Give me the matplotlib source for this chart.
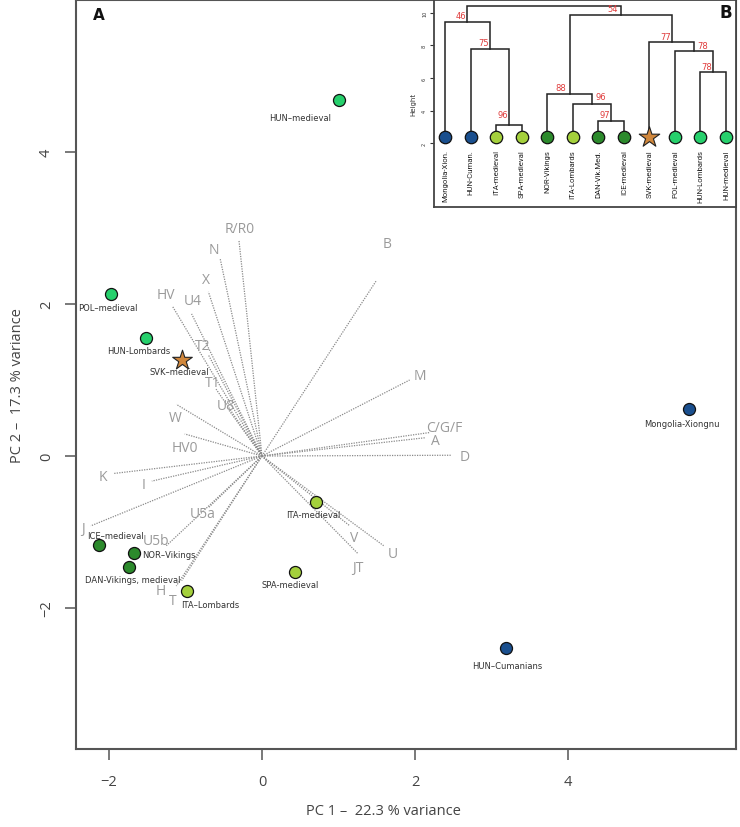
import matplotlib
matplotlib.use("Agg")
import matplotlib.pyplot as plt

# ---------------- data ----------------
pop_names = ["HUN\u2013medieval", "POL\u2013medieval", "HUN-Lombards", "SVK\u2013medieval",
             "ICE\u2013medieval", "NOR\u2013Vikings", "DAN-Vikings, medieval", "ITA\u2013Lombards",
             "SPA-medieval", "ITA-medieval", "Mongolia-Xiongnu", "HUN\u2013Cumanians"]
pc1 = [1.01, -1.97, -1.52, -1.04, -2.13, -1.67, -1.74, -0.98, 0.43, 0.71, 5.58, 3.19]
pc2 = [4.68, 2.13, 1.55, 1.26, -1.17, -1.27, -1.46, -1.78, -1.53, -0.60, 0.62, -2.53]
pop_group = ["cE", "cE", "cE", "SVK", "NORD", "NORD", "NORD", "SOUTH", "SOUTH", "SOUTH", "ASIA", "ASIA"]
pop_label_x = [0.50, -2.01, -1.61, -1.08, -1.92, -1.22, -1.69, -0.67, 0.375, 0.67, 5.49, 3.20]
pop_label_y = [4.45, 1.96, 1.39, 1.11, -1.04, -1.30, -1.63, -1.95, -1.69, -0.77, 0.43, -2.75]

hg_names = ["R/R0", "N", "X", "HV", "U4", "T2", "T1", "U8", "W", "HV0", "K", "I", "J",
            "U5a", "U5b", "H", "T", "B", "M", "C/G/F", "A", "D", "V", "U", "JT"]
hg_tip_x = [-0.30, -0.545, -0.70, -1.17, -0.92, -0.70, -0.60, -0.43, -1.12, -1.01, -1.94, -1.44, -2.24,
            -0.70, -1.25, -1.12, -1.05, 1.49, 1.93, 2.20, 2.13, 2.48, 1.15, 1.59, 1.25]
hg_tip_y = [2.83, 2.59, 2.16, 1.97, 1.87, 1.33, 0.88, 0.60, 0.68, 0.29, -0.23, -0.33, -0.92,
            -0.68, -1.18, -1.71, -1.64, 2.30, 1.00, 0.31, 0.24, 0.01, -0.92, -1.18, -1.28]
hg_lab_x = [-0.29, -0.63, -0.73, -1.25, -0.90, -0.77, -0.65, -0.47, -1.14, -1.01, -2.08, -1.55, -2.34,
            -0.77, -1.38, -1.32, -1.17, 1.63, 2.07, 2.38, 2.26, 2.65, 1.21, 1.71, 1.25]
hg_lab_y = [3.00, 2.72, 2.32, 2.12, 2.04, 1.46, 0.97, 0.67, 0.51, 0.11, -0.27, -0.37, -0.96,
            -0.76, -1.11, -1.77, -1.90, 2.80, 1.06, 0.38, 0.20, -0.01, -1.07, -1.28, -1.47]

x_ticks = [-2, 0, 2, 4]
y_ticks = [-2, 0, 2, 4]
x_title = "PC 1 \u2013  22.3 % variance"
y_title = "PC 2 \u2013  17.3 % variance"

# dendrogram
leaf_names = ["Mongolia-Xion.", "HUN-Cuman.", "ITA-medieval", "SPA-medieval", "NOR-Vikings",
              "ITA-Lombards", "DAN-Vik.Med.", "ICE-medieval", "SVK-medieval", "POL-medieval",
              "HUN-Lombards", "HUN-medieval"]
leaf_group = ["ASIA", "ASIA", "SOUTH", "SOUTH", "NORD", "SOUTH", "NORD", "NORD", "SVK", "cE", "cE", "cE"]
node_a = [2, 1, 0, 6, 5, 4, 10, 9, 8, 17, 14]
node_b = [3, 12, 13, 7, 15, 16, 11, 18, 19, 20, 21]
node_h = [3.14, 7.79, 9.42, 3.39, 4.43, 5.02, 6.36, 7.68, 8.23, 9.89, 10.44]
node_bs = ["96", "75", "46", "97", "96", "88", "78", "78", "77", "54", ""]
node_bs_x = [3.26, 2.50, 1.63, 7.26, 7.08, 5.54, 11.24, 11.09, 9.64, 7.56, 0]
node_bs_y = [3.74, 8.17, 9.83, 3.74, 4.86, 5.44, 6.70, 7.97, 8.54, 10.24, 0]
h_ticks = [2, 4, 6, 8, 10]

# ---------------- style ----------------
colors = {"ASIA": "#1a4f8e", "SOUTH": "#a4d03c", "NORD": "#2c8a2c", "cE": "#26d06c", "SVK": "#d0873c"}
grey_txt = "#9a9a9a"
axis_col = "#555555"
tickfont = ["Open Sans", "DejaVu Sans"]

W, H = 740, 828
fig = plt.figure(figsize=(W / 100, H / 100), dpi=100)
ax = fig.add_axes([76 / W, 78 / H, 660 / W, 749 / H])
ax.set_xlim(-2.431, 6.196)
ax.set_ylim(-3.855, 6.0)

# loading vectors
for nm, tx, ty, lx, ly in zip(hg_names, hg_tip_x, hg_tip_y, hg_lab_x, hg_lab_y):
    ax.plot([0, tx], [0, ty], ls=(0, (1, 1)), lw=0.9, color="#8a8a8a", zorder=1)
    ax.text(lx, ly, nm, color=grey_txt, fontsize=10, ha="center", va="center",
            family=tickfont, zorder=2)

# points
for nm, x, y, g, lx, ly in zip(pop_names, pc1, pc2, pop_group, pop_label_x, pop_label_y):
    if g == "SVK":
        ax.scatter([x], [y], marker="*", s=220, color=colors[g], edgecolor="#222222",
                   linewidth=0.8, zorder=4)
    else:
        ax.scatter([x], [y], marker="o", s=75, color=colors[g], edgecolor="#111111",
                   linewidth=0.9, zorder=4)
    ax.text(lx, ly, nm, fontsize=6, color="#333333", ha="center", va="center",
            family=["DejaVu Sans"], zorder=5)

ax.set_xticks(x_ticks)
ax.set_xticklabels(["\u22122", "0", "2", "4"])
ax.set_yticks(y_ticks)
ax.set_yticklabels(["\u22122", "0", "2", "4"], rotation=90, va="center")
for lab in ax.get_xticklabels() + ax.get_yticklabels():
    lab.set_family(tickfont)
    lab.set_fontsize(10.5)
    lab.set_color("#444444")
ax.tick_params(axis="both", direction="out", length=8, width=1.1, color=axis_col)
ax.tick_params(axis="x", pad=10)
ax.tick_params(axis="y", pad=8)
for s in ax.spines.values():
    s.set_color(axis_col)
    s.set_linewidth(1.5)

fig.text(383 / W, 1 - 812 / H, x_title, ha="center", va="center", fontsize=10.5,
         color="#444444", family=tickfont)
fig.text(18 / W, 1 - 386 / H, y_title, ha="center", va="center", rotation=90,
         fontsize=10.5, color="#444444", family=tickfont)
fig.text(99 / W, 1 - 15 / H, "A", ha="center", va="center", fontsize=11,
         fontweight="bold", color="#111111")

# ---------------- inset dendrogram ----------------
ax2 = fig.add_axes([434 / W, (H - 207.7) / H, (736 - 434) / W, 206.7 / H])
ax2.set_facecolor("white")
ax2.set_xlim(0.569, 12.39)
ax2.set_ylim(-1.89, 10.79)

leaf_h = 2.4
pos = {i: (i + 1.0, leaf_h) for i in range(len(leaf_names))}
for k, (a, b, h) in enumerate(zip(node_a, node_b, node_h)):
    xa, ha_ = pos[a]
    xb, hb = pos[b]
    ax2.plot([xa, xa, xb, xb], [ha_, h, h, hb], color="#222222", lw=1.1, zorder=2,
             solid_joinstyle="miter")
    pos[12 + k] = ((xa + xb) / 2, h)
for t, bx, by in zip(node_bs, node_bs_x, node_bs_y):
    if t:
        ax2.text(bx, by, t, color="#e03c3c", fontsize=6, ha="center", va="center")

for i, (nm, g) in enumerate(zip(leaf_names, leaf_group)):
    if g == "SVK":
        ax2.scatter([i + 1], [leaf_h], marker="*", s=240, color=colors[g],
                    edgecolor="#222222", linewidth=0.8, zorder=4)
    else:
        ax2.scatter([i + 1], [leaf_h], marker="o", s=80, color=colors[g],
                    edgecolor="#111111", linewidth=0.9, zorder=4)
    ax2.text(i + 1, 1.62, nm, rotation=90, ha="center", va="top", fontsize=5.6,
             color="#222222", family=["Roboto", "DejaVu Sans"])

ax2.set_xticks([])
ax2.set_yticks(h_ticks)
ax2.set_yticklabels([str(v) for v in h_ticks], rotation=90, va="center")
ax2.tick_params(axis="y", direction="out", length=3, width=0.8, labelsize=3.5, pad=2,
                colors="#333333")
ax2.set_ylabel("Height", fontsize=5, color="#333333", labelpad=4)
for s in ax2.spines.values():
    s.set_color("#444444")
    s.set_linewidth(1.3)
fig.text(726 / W, 1 - 13 / H, "B", ha="center", va="center", fontsize=12,
         fontweight="bold", color="#111111")

fig.savefig("out.png", dpi=100)
